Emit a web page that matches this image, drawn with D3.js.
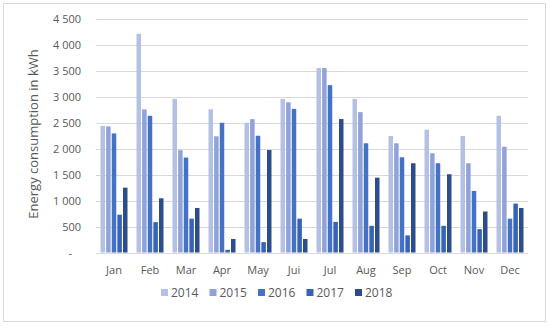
<!DOCTYPE html>
<html lang="en">
<head>
    <meta charset="UTF-8">
    <title>Energy consumption</title>
    <script src="https://d3js.org/d3.v7.min.js"></script>
    <style>
        body { margin: 0; background: #fff; }
        svg { font-family: "Open Sans", "Noto Sans", sans-serif; }
        .grid line { stroke: #d9d9d9; stroke-width: 1px; }
        .tick-label { fill: #595959; font-size: 11px; }
    </style>
</head>
<body>
    <svg width="550" height="326"></svg>

    <script>
        const months = ["Jan", "Feb", "Mar", "Apr", "May", "Jui", "Jul", "Aug", "Sep", "Oct", "Nov", "Dec"];
        const years = ["2014", "2015", "2016", "2017", "2018"];
        const v2014 = [2440, 4215, 2960, 2760, 2500, 2960, 3555, 2960, 2245, 2367, 2245, 2635];
        const v2015 = [2430, 2758, 1972, 2240, 2570, 2895, 3555, 2705, 2105, 1912, 1720, 2040];
        const v2016 = [2295, 2635, 1830, 2500, 2250, 2768, 3225, 2105, 1835, 1720, 1185, 652];
        const v2017 = [728, 585, 652, 52, 200, 652, 590, 515, 330, 515, 450, 942];
        const v2018 = [1250, 1045, 858, 260, 1975, 260, 2572, 1442, 1720, 1508, 790, 858];
        const yTicks = [0, 500, 1000, 1500, 2000, 2500, 3000, 3500, 4000, 4500];
        const colors = ["#b4c1e5", "#8fa3da", "#4472c4", "#3862b3", "#2c4c8b"];

        const series = [v2014, v2015, v2016, v2017, v2018];

        const svg = d3.select("svg");

        // cadre extérieur
        svg.append("rect")
            .attr("x", 3.5).attr("y", 3.5)
            .attr("width", 542).attr("height", 318)
            .attr("fill", "none")
            .attr("stroke", "#d9d9d9");

        const x0 = d3.scaleBand().domain(months).range([96, 528]).padding(0);
        const x1 = d3.scaleBand().domain(years).range([0, x0.bandwidth()])
            .paddingInner(0.2).paddingOuter(0.8);
        const y = d3.scaleLinear().domain([0, 4500]).range([252.5, 19]);

        // grille
        svg.append("g").attr("class", "grid")
            .selectAll("line")
            .data(yTicks)
            .enter().append("line")
            .attr("x1", 96).attr("x2", 528)
            .attr("y1", d => Math.round(y(d)) + 0.5)
            .attr("y2", d => Math.round(y(d)) + 0.5);

        // étiquettes axe Y
        const fmt = d => d === 0 ? "-" : d3.format(",")(d).replace(",", " ");
        svg.append("g")
            .selectAll("text")
            .data(yTicks)
            .enter().append("text")
            .attr("class", "tick-label")
            .attr("x", d => d === 0 ? 72 : 81)
            .attr("y", d => y(d) + 4)
            .attr("text-anchor", "end")
            .text(fmt);

        // barres
        const groups = svg.append("g")
            .selectAll("g")
            .data(months)
            .enter().append("g")
            .attr("transform", d => `translate(${x0(d)},0)`);

        groups.selectAll("rect")
            .data((m, i) => series.map((s, k) => ({ year: years[k], value: s[i], k })))
            .enter().append("rect")
            .attr("x", d => x1(d.year))
            .attr("width", x1.bandwidth())
            .attr("y", d => y(d.value))
            .attr("height", d => y(0) - y(d.value))
            .attr("fill", d => colors[d.k]);

        // étiquettes axe X
        svg.append("g")
            .selectAll("text")
            .data(months)
            .enter().append("text")
            .attr("class", "tick-label")
            .attr("x", d => x0(d) + x0.bandwidth() / 2)
            .attr("y", 274)
            .attr("text-anchor", "middle")
            .text(d => d);

        // titre axe Y
        svg.append("text")
            .attr("transform", "translate(38,134) rotate(-90)")
            .attr("text-anchor", "middle")
            .attr("fill", "#595959")
            .style("font-size", "13px")
            .text("Energy consumption in kWh");

        // légende
        const legend = svg.append("g")
            .selectAll("g")
            .data(years)
            .enter().append("g")
            .attr("transform", (d, i) => `translate(${161 + i * 48.5},297)`);

        legend.append("rect")
            .attr("x", 0).attr("y", -8)
            .attr("width", 7).attr("height", 7)
            .attr("fill", (d, i) => colors[i]);

        legend.append("text")
            .attr("class", "tick-label")
            .attr("x", 10).attr("y", 0)
            .style("font-size", "12px")
            .text(d => d);
    </script>
</body>
</html>
